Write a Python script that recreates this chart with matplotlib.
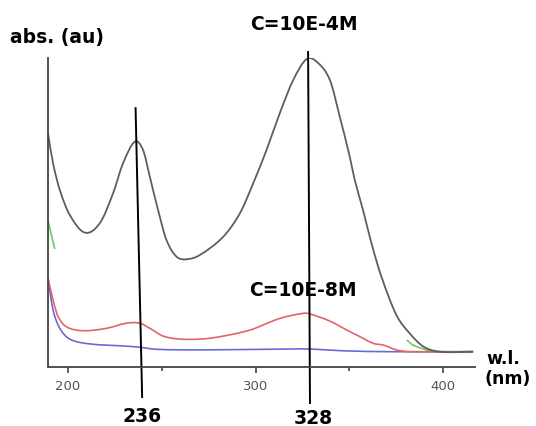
import numpy as np
import matplotlib
matplotlib.use('Agg')
import matplotlib.pyplot as plt
from matplotlib.path import Path
from matplotlib.patches import PathPatch

# UV-vis spectra, absorbance in arbitrary units
wl_hi = [189.3, 192.0, 195.6, 200.9, 208.9, 216.9, 224.0, 229.3, 235.6, 240.0,
         243.6, 248.0, 252.5, 257.8, 263.1, 270.2, 282.7, 291.6, 298.7, 305.8,
         312.9, 320.1, 327.1, 332.5, 339.6, 344.9, 350.2, 352.9, 357.3, 361.8,
         367.1, 375.1, 382.2, 389.5, 398.2, 416.0]
abs_hi = [0.779, 0.679, 0.590, 0.507, 0.448, 0.479, 0.579, 0.679, 0.751, 0.723,
          0.634, 0.523, 0.423, 0.368, 0.359, 0.373, 0.434, 0.512, 0.612, 0.723,
          0.846, 0.957, 1.026, 1.018, 0.957, 0.834, 0.701, 0.623, 0.523, 0.412,
          0.301, 0.173, 0.112, 0.068, 0.051, 0.051]

wl_lo = [189.3, 192.0, 194.7, 199.1, 208.0, 220.5, 231.1, 238.2, 243.6, 250.7,
         259.6, 270.2, 279.1, 296.9, 312.9, 325.5, 329.0, 339.6, 350.2, 353.8,
         362.7, 368.2, 375.1, 382.2, 416.0]
abs_lo = [0.296, 0.223, 0.168, 0.134, 0.121, 0.129, 0.146, 0.146, 0.129, 0.103,
          0.093, 0.093, 0.099, 0.123, 0.162, 0.179, 0.177, 0.153, 0.118, 0.107,
          0.079, 0.073, 0.057, 0.051, 0.051]

wl_blank = [189.3, 192.0, 195.6, 200.9, 211.6, 229.5, 238.2, 247.1, 270.2, 318.2,
            329.0, 346.7, 371.8, 398.2, 416.0]
abs_blank = [0.296, 0.190, 0.129, 0.093, 0.077, 0.070, 0.066, 0.059, 0.057, 0.060,
             0.060, 0.054, 0.051, 0.051, 0.051]

# green trace, only visible at both ends
wl_mid_a = [189.3, 192.8]
abs_mid_a = [0.488, 0.396]
wl_mid_b = [380.6, 384.0, 393.1, 398.2, 416.0]
abs_mid_b = [0.090, 0.073, 0.054, 0.051, 0.051]

peaks = [236, 328]
peak_labels = ['236', '328']


def smooth(ax, x, y, **kw):
    # draw a smooth curve through the read points (cubic hermite, drawn as bezier path)
    x = np.asarray(x, float)
    y = np.asarray(y, float)
    n = len(x)
    if n < 3:
        ax.plot(x, y, **kw)
        return
    m = np.zeros(n)
    m[0] = (y[1] - y[0]) / (x[1] - x[0])
    m[-1] = (y[-1] - y[-2]) / (x[-1] - x[-2])
    for i in range(1, n - 1):
        m[i] = (y[i + 1] - y[i - 1]) / (x[i + 1] - x[i - 1])
    verts = [(x[0], y[0])]
    codes = [Path.MOVETO]
    for i in range(n - 1):
        h = x[i + 1] - x[i]
        verts += [(x[i] + h / 3, y[i] + m[i] * h / 3),
                  (x[i + 1] - h / 3, y[i + 1] - m[i + 1] * h / 3),
                  (x[i + 1], y[i + 1])]
        codes += [Path.CURVE4] * 3
    ax.add_patch(PathPatch(Path(verts, codes), fill=False, **kw))


fig = plt.figure(figsize=(5.36, 4.26), dpi=100)
ax = fig.add_axes([48/536, 1-367/426, 427/536, 309/426])

ax.plot(wl_mid_a, abs_mid_a, color='#66cc66', lw=1.2)
smooth(ax, wl_mid_b, abs_mid_b, edgecolor='#66cc66', lw=1.2)
smooth(ax, wl_blank, abs_blank, edgecolor='#6a6ad6', lw=1.2)
smooth(ax, wl_lo, abs_lo, edgecolor='#e06468', lw=1.2)
smooth(ax, wl_hi, abs_hi, edgecolor='#5e5e5e', lw=1.3)

ax.set_xlim(189.3, 417)
ax.set_ylim(0, 1.03)
ax.spines['top'].set_visible(False)
ax.spines['right'].set_visible(False)
ax.spines['left'].set_color('#444444')
ax.spines['bottom'].set_color('#444444')
ax.spines['left'].set_linewidth(1.3)
ax.spines['bottom'].set_linewidth(1.3)
ax.set_yticks([])
ax.set_xticks([200, 300, 400])
ax.set_xticks([250, 350], minor=True)
ax.tick_params(axis='x', which='major', length=4, width=1.2, color='#444444',
               labelsize=9.5, labelcolor='#555555', pad=5)
ax.tick_params(axis='x', which='minor', length=3, width=1.2, color='#444444')

# peak markers, hand drawn in the original so slightly slanted
ax.plot([peaks[0], peaks[0] + 3.5], [0.863, -0.10], color='black', lw=1.4, clip_on=False)
ax.plot([peaks[1], peaks[1] + 1], [1.05, -0.12], color='black', lw=1.4, clip_on=False)

bold = dict(fontsize=13.5, fontweight='bold', family='DejaVu Sans')
fig.text(10/536, 1-38/426, 'abs. (au)', ha='left', va='center', **bold)
fig.text(304/536, 1-25/426, 'C=10E-4M', ha='center', va='center', **bold)
fig.text(303/536, 1-291/426, 'C=10E-8M', ha='center', va='center', **bold)
fig.text(142/536, 1-417/426, peak_labels[0], ha='center', va='center', **bold)
fig.text(313/536, 1-418/426, peak_labels[1], ha='center', va='center', **bold)
small = dict(bold, fontsize=12.5)
fig.text(486/536, 1-359/426, 'w.l.', ha='left', va='center', **small)
fig.text(484/536, 1-379/426, '(nm)', ha='left', va='center', **small)

fig.savefig('out.png', dpi=100)
